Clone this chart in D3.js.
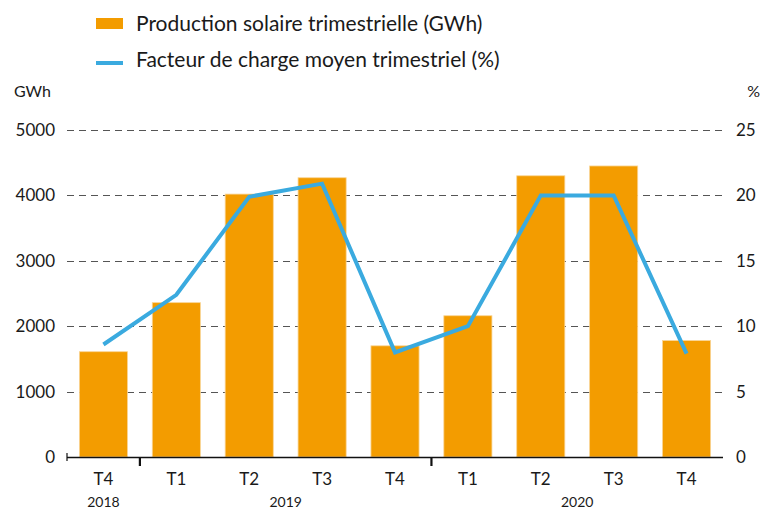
<!DOCTYPE html>
<html>
<head>
<meta charset="utf-8">
<script src="https://cdn.jsdelivr.net/npm/d3@7"></script>
<style>
  html, body { margin: 0; padding: 0; background: #fff; }
  svg { display: block; font-family: Lato, "Open Sans", sans-serif; }
</style>
</head>
<body>
<svg id="chart" width="771" height="509"></svg>
<script>
// Quarterly solar production (GWh) and mean quarterly load factor (%)
const quarters = ["T4", "T1", "T2", "T3", "T4", "T1", "T2", "T3", "T4"];
const years = [
  { label: "2018", from: 0, to: 0 },
  { label: "2019", from: 1, to: 4 },
  { label: "2020", from: 5, to: 8 }
];
const production = [1610, 2360, 4020, 4270, 1700, 2160, 4300, 4450, 1780];
const loadFactor = [8.6, 12.4, 19.9, 20.9, 8.0, 10.0, 20.0, 20.0, 7.9];
const leftTicks = [0, 1000, 2000, 3000, 4000, 5000];
const rightTicks = [0, 5, 10, 15, 20, 25];

const svg = d3.select("#chart");
const plotLeft = 67, plotRight = 723, plotTop = 130, plotBottom = 457;

const x = d3.scaleBand().domain(d3.range(quarters.length)).range([plotLeft, plotRight]).paddingInner(0.34).paddingOuter(0.17);
const xStep = (plotRight - plotLeft) / quarters.length;
const yL = d3.scaleLinear().domain([0, 5000]).range([plotBottom, plotTop]);
const yR = d3.scaleLinear().domain([0, 25]).range([plotBottom, plotTop]);

const orange = "#f39c00";
const blue = "#3aaadf";
const ink = "#1a1a1a";

// Dashed gridlines
svg.append("g").selectAll("line").data(leftTicks.filter(d => d > 0)).join("line")
  .attr("x1", plotLeft).attr("x2", plotRight)
  .attr("y1", d => Math.round(yL(d)) + 0.5).attr("y2", d => Math.round(yL(d)) + 0.5)
  .attr("stroke", "#555").attr("stroke-width", 1.2).attr("stroke-dasharray", "7,5");

// Bars
svg.append("g").selectAll("rect").data(production).join("rect")
  .attr("x", (d, i) => x(i)).attr("width", x.bandwidth())
  .attr("y", d => yL(d)).attr("height", d => plotBottom - yL(d))
  .attr("fill", orange).attr("stroke", "#f9d596").attr("stroke-width", 0.8);

// Baseline axis with year separators
svg.append("line").attr("x1", plotLeft).attr("x2", plotRight).attr("y1", plotBottom + 0.5).attr("y2", plotBottom + 0.5)
  .attr("stroke", "#111").attr("stroke-width", 1.3);
svg.append("line").attr("x1", plotLeft).attr("x2", plotLeft).attr("y1", plotBottom - 4).attr("y2", plotBottom + 4)
  .attr("stroke", "#111").attr("stroke-width", 1.2);
svg.append("g").selectAll("line").data(years.slice(1)).join("line")
  .attr("x1", d => plotLeft + d.from * xStep).attr("x2", d => plotLeft + d.from * xStep)
  .attr("y1", plotBottom).attr("y2", plotBottom + 9)
  .attr("stroke", "#111").attr("stroke-width", 2.2);

// Load factor line
const line = d3.line().x((d, i) => x(i) + x.bandwidth() / 2).y(d => yR(d));
svg.append("path").datum(loadFactor).attr("d", line)
  .attr("fill", "none").attr("stroke", blue).attr("stroke-width", 4).attr("stroke-linejoin", "miter");

// Left axis labels
svg.append("g").selectAll("text").data(leftTicks).join("text")
  .attr("x", 55).attr("y", d => yL(d)).attr("dy", "0.35em").attr("text-anchor", "end")
  .attr("font-size", 17).attr("fill", ink).text(d => d);
// Right axis labels
svg.append("g").selectAll("text").data(rightTicks).join("text")
  .attr("x", 736).attr("y", d => yR(d)).attr("dy", "0.35em").attr("text-anchor", "start")
  .attr("font-size", 17).attr("fill", ink).text(d => d);

svg.append("text").attr("x", 14).attr("y", 97).attr("font-size", 16).attr("fill", ink).text("GWh");
svg.append("text").attr("x", 760).attr("y", 97).attr("text-anchor", "end").attr("font-size", 16).attr("fill", ink).text("%");

// Quarter labels
svg.append("g").selectAll("text").data(quarters).join("text")
  .attr("x", (d, i) => x(i) + x.bandwidth() / 2).attr("y", 485).attr("text-anchor", "middle")
  .attr("font-size", 17).attr("fill", ink).text(d => d);
// Year labels
svg.append("g").selectAll("text").data(years).join("text")
  .attr("x", d => plotLeft + (d.from + d.to + 1) / 2 * xStep).attr("y", 507).attr("text-anchor", "middle")
  .attr("font-size", 14).attr("fill", ink).text(d => d.label);

// Legend
const legend = svg.append("g");
legend.append("rect").attr("x", 96).attr("y", 18).attr("width", 27).attr("height", 11).attr("fill", orange);
legend.append("text").attr("x", 136).attr("y", 31).attr("font-size", 21).attr("fill", ink)
  .text("Production solaire trimestrielle (GWh)");
legend.append("line").attr("x1", 96).attr("x2", 123).attr("y1", 63).attr("y2", 63)
  .attr("stroke", blue).attr("stroke-width", 4);
legend.append("text").attr("x", 136).attr("y", 67).attr("font-size", 21).attr("fill", ink)
  .text("Facteur de charge moyen trimestriel (%)");
</script>
</body>
</html>
